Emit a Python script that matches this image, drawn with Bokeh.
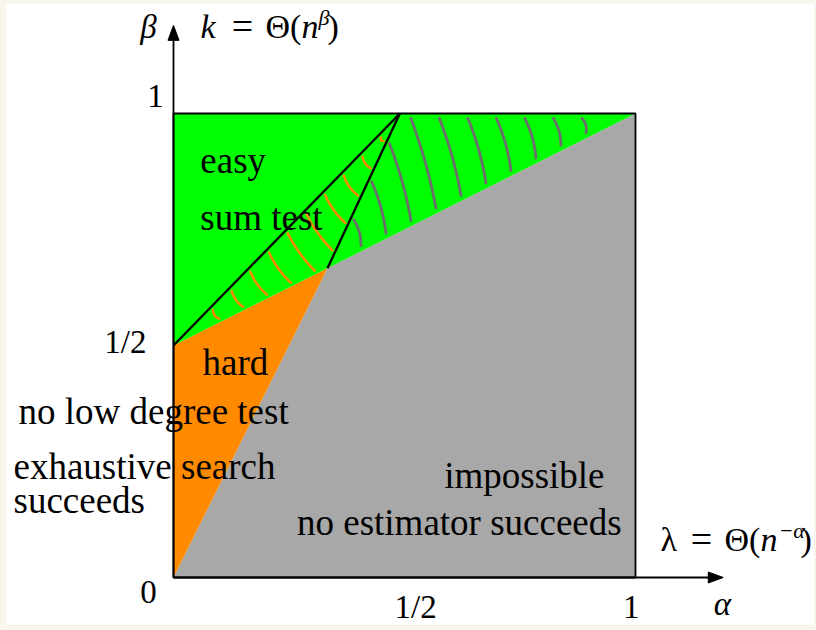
import numpy as np
from bokeh.plotting import figure
from bokeh.models import Range1d
from bokeh.core.properties import value
from bokeh.embed import file_html
from bokeh.resources import INLINE

# ---------------- data (alpha, beta) ----------------
easy_x = [0.0, 1/3, 1.0, 0.0]
easy_y = [0.5, 2/3, 1.0, 1.0]
hard_x = [0.0, 0.0, 1/3]
hard_y = [0.0, 0.5, 2/3]
impossible_x = [0.0, 1/3, 1.0, 1.0]
impossible_y = [0.0, 2/3, 1.0, 0.0]
apex_x = 0.49
sum_line_x = [0.0, apex_x]
sum_line_y = [0.5, 1.0]
edge_line_x = [1/3, apex_x]
edge_line_y = [2/3, 1.0]
box_x = [0.0, 1.0, 1.0, 0.0, 0.0]
box_y = [0.0, 0.0, 1.0, 1.0, 0.0]
orange_region = [(0.0, 0.5), (apex_x, 1.0), (1/3, 2/3)]
gray_region = [(1/3, 2/3), (apex_x, 1.0), (1.0, 1.0)]
x_tick_vals = [0.524, 0.991]
x_tick_labels = ["1/2", "1"]
y_tick_vals = [1.015, 0.485]
y_tick_labels = ["1", "1/2"]

# ---------------- geometry of the page ----------------
PAD_X, PAD_Y = 6, 3            # white sheet offset inside the page
SX, SY = 462.0, 464.0          # pixels per unit
W, H = 808, 622
OX, OY = 173.0 - PAD_X, 577.0 - PAD_Y   # origin in figure pixels

p = figure(width=W, height=H, output_backend="svg", toolbar_location=None,
           x_range=Range1d(-OX / SX, (W - OX) / SX),
           y_range=Range1d(-(H - OY) / SY, OY / SY),
           x_axis_location=None, y_axis_location=None,
           min_border=0, tools="")
p.grid.visible = False
p.outline_line_color = None
p.background_fill_color = "white"
p.border_fill_color = "white"

GREEN, ORANGE, GRAY = "#00ff00", "#ff8a00", "#a8a8a8"

p.patch(impossible_x, impossible_y, fill_color=GRAY, line_color=None)
p.patch(hard_x, hard_y, fill_color=ORANGE, line_color=None)
p.patch(easy_x, easy_y, fill_color=GREEN, line_color=None)


# ---------------- hatching (clipped parallel strokes) ----------------
def clip_strokes(region, anchors, direction, trim, bow):
    poly = np.array([(x * SX, y * SY) for x, y in region])
    d = np.array(direction, float)
    dn = d / np.linalg.norm(d)
    cen = poly.mean(axis=0)
    xs_out, ys_out = [], []
    for a in anchors:
        P = np.array(a, float)
        t0, t1 = -1e9, 1e9
        for i in range(len(poly)):
            A, B = poly[i], poly[(i + 1) % len(poly)]
            e = B - A
            n = np.array([-e[1], e[0]])
            if np.dot(n, cen - A) < 0:
                n = -n
            num = np.dot(n, P - A)
            den = np.dot(n, dn)
            if abs(den) < 1e-12:
                if num < 0:
                    t0, t1 = 1, 0
                continue
            t = -num / den
            if den > 0:
                t0 = max(t0, t)
            else:
                t1 = min(t1, t)
        t0 += trim
        t1 -= trim
        if t1 - t0 < 3:
            continue
        u = np.linspace(0, 1, 15)
        tt = t0 + (t1 - t0) * u
        perp = np.array([-dn[1], dn[0]])
        pts = P[None, :] + tt[:, None] * dn[None, :] + (bow * 4 * u * (1 - u))[:, None] * perp[None, :]
        xs_out.append(list(pts[:, 0] / SX))
        ys_out.append(list(pts[:, 1] / SY))
    return xs_out, ys_out


gray_anchors = [(150.5 + 28.5 * k, SY) for k in range(11)]
gx, gy = clip_strokes(gray_region, gray_anchors, (0.28, -1.0), 5.0, 2.0)
p.multi_line(gx, gy, line_color="#6e6e6e", line_width=2.8, line_cap="round")

orange_anchors = [(65.0 + 32.5 * k, 0.5 * SY) for k in range(10)]
ox_, oy_ = clip_strokes(orange_region, orange_anchors, (-0.72, 1.0), 3.5, 1.8)
p.multi_line(ox_, oy_, line_color=ORANGE, line_width=2.5, line_cap="round")

# ---------------- black lines ----------------
p.line(box_x, box_y, line_color="black", line_width=1.8)
p.line(sum_line_x, sum_line_y, line_color="black", line_width=2.3)
p.line(edge_line_x, edge_line_y, line_color="black", line_width=2.3)

# axes with arrow heads
TIP = 1.19
HL, HW = 15.0, 5.5
p.line([0, 0], [0, TIP - HL / SY], line_color="black", line_width=1.8)
p.line([0, TIP - HL / SX], [0, 0], line_color="black", line_width=1.8)
p.patch([0, -HW / SX, HW / SX], [TIP, TIP - HL / SY, TIP - HL / SY],
        fill_color="black", line_color="black", line_width=1)
p.patch([TIP, TIP - HL / SX, TIP - HL / SX], [0, HW / SY, -HW / SY],
        fill_color="black", line_color="black", line_width=1)

SERIF = value("Liberation Serif")
BIG = "37px"
TICK = "33px"


def txt(x, y, s, size, align="left", style="normal"):
    lift = 0.31 * float(size[:-2]) / SY       # renderer places baseline lower
    p.text(x=x, y=[v + lift for v in y], text=s, text_font=SERIF, text_font_size=size,
           text_align=align, text_baseline="alphabetic",
           text_font_style=style, text_color="black")


# tick labels
txt([x_tick_vals[0], x_tick_vals[1]], [-0.086, -0.086], x_tick_labels, TICK, "center")
txt([-0.039, -0.104], y_tick_vals, y_tick_labels, TICK, "center")
txt([-0.054], [-0.054], ["0"], TICK, "center")
txt([1.188], [-0.080], ["α"], TICK, "center", "italic")
txt([-0.054], [1.164], ["β"], TICK, "center", "italic")

# region labels
txt([0.058, 0.058], [0.875, 0.752], ["easy", "sum test"], BIG)
txt([0.063], [0.4397], ["hard"], BIG)
txt([-0.3355, -0.3463, -0.3463], [0.334, 0.2155, 0.142],
    ["no low degree test", "exhaustive search", "succeeds"], BIG)
txt([0.933, 0.970], [0.196, 0.0948], ["impossible", "no estimator succeeds"], BIG, "right")


# math labels assembled from pieces: (page px x, text, style, size, raise px, align)
def math(py_base, pieces):
    for px, s, style, size, rise, align in pieces:
        txt([(px - 173) / SX], [(577 - py_base + rise) / SY], [s], size, align, style)


math(37, [(200, "k", "italic", "34px", 0, "left"),
          (242, "=", "normal", "38px", 0, "center"),
          (265, "Θ(", "normal", "34px", 0, "left"),
          (301, "n", "italic", "34px", 0, "left"),
          (318, "β", "italic", "22px", 13, "left"),
          (327, ")", "normal", "34px", 0, "left")])
math(550, [(660, "λ", "normal", "34px", 0, "left"),
           (701, "=", "normal", "38px", 0, "center"),
           (724, "Θ(", "normal", "34px", 0, "left"),
           (760, "n", "italic", "34px", 0, "left"),
           (778, "−α", "italic", "22px", 13, "left"),
           (800, ")", "normal", "34px", 0, "left")])

html = file_html(p, INLINE)
css = ("<style>html, body {background-color:#f8f6ea !important;} "
       "body {padding:%dpx 0 0 %dpx !important;}</style></head>" % (PAD_Y, PAD_X))
html = html.replace("</head>", css, 1)
open("out.html", "w").write(html)
